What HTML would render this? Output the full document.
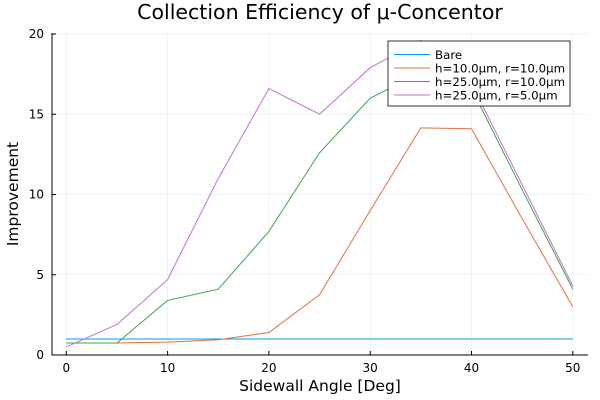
<!DOCTYPE html>
<html><head><meta charset="utf-8"><style>body{margin:0;background:#fff}svg{display:block}text{font-family:"DejaVu Sans","Liberation Sans",sans-serif}</style></head>
<body>
<svg id="chart" width="600" height="400"></svg>
<script>
const xs=[0,5,10,15,20,25,30,35,40,45,50];
const bare=[1,1,1,1,1,1,1,1,1,1,1];
const h10r10=[0.75,0.75,0.8,0.95,1.4,3.75,9.0,14.15,14.1,8.5,3.0];
const h25r10=[0.75,0.75,3.4,4.1,7.7,12.6,16.0,17.6,16.6,10.3,4.1];
const h25r5=[0.5,1.9,4.7,11.0,16.6,15.0,17.9,19.6,16.9,10.6,4.3];
const xTicks=[0,10,20,30,40,50];
const yTicks=[0,5,10,15,20];
const seriesNames=["Bare","h=10.0μm, r=10.0μm","h=25.0μm, r=10.0μm","h=25.0μm, r=5.0μm"];
const colors=["#009af9","#e26f46","#3da44d","#c271d2"];
const series=[bare,h10r10,h25r10,h25r5];
const NS="http://www.w3.org/2000/svg";
const svg=document.getElementById('chart');
const L=52,R=588,T=33,B=355;
const X=v=>66.3+v*10.13, Y=v=>355-v*16.05;
function mk(t,a,p){const e=document.createElementNS(NS,t);for(const k in a)e.setAttribute(k,a[k]);(p||svg).appendChild(e);return e;}
xTicks.forEach(v=>{const g=mk('line',{x1:X(v),x2:X(v),y1:T,y2:B,stroke:'#000','stroke-opacity':0.1,'stroke-width':0.5});

const t=mk('text',{x:X(v),y:372,'font-size':12,'text-anchor':'middle'});t.textContent=v;

mk('line',{x1:X(v),x2:X(v),y1:B,y2:B-4,stroke:'#000','stroke-width':1});});
yTicks.forEach(v=>{const g=mk('line',{x1:L,x2:R,y1:Y(v),y2:Y(v),stroke:'#000','stroke-opacity':0.1,'stroke-width':0.5});

const t=mk('text',{x:44,y:Y(v)+4,'font-size':12,'text-anchor':'end'});t.textContent=v;

mk('line',{x1:L,x2:L+4,y1:Y(v),y2:Y(v),stroke:'#000','stroke-width':1});});
const ax=mk('path',{d:`M${L},${T}V${B}H${R}`,fill:'none',stroke:'#000','stroke-width':1});

series.forEach((s,i)=>{const p=mk('polyline',{points:s.map((v,j)=>X(xs[j])+','+Y(v)).join(' '),fill:'none',stroke:colors[i],'stroke-width':1});
});
const lg=mk('g',{});
mk('rect',{x:388,y:41,width:182,height:65,fill:'#fff',stroke:'#000','stroke-width':0.8},lg);
seriesNames.forEach((n,i)=>{const y=54.5+i*13.5;
mk('line',{x1:394,x2:430,y1:y,y2:y,stroke:colors[i],'stroke-width':1},lg);
const t=mk('text',{x:435,y:y+4.5,'font-size':11.8},lg);t.textContent=n;
});
const tt=mk('text',{x:320,y:19,'font-size':20.5,'text-anchor':'middle'});tt.textContent='Collection Efficiency of μ-Concentor';

const xt=mk('text',{x:320,y:391,'font-size':15.5,'text-anchor':'middle'});xt.textContent='Sidewall Angle [Deg]';

const yt=mk('text',{x:18,y:194,'font-size':15.5,'text-anchor':'middle',transform:'rotate(-90 18 194)'});yt.textContent='Improvement';

</script>
</body></html>
